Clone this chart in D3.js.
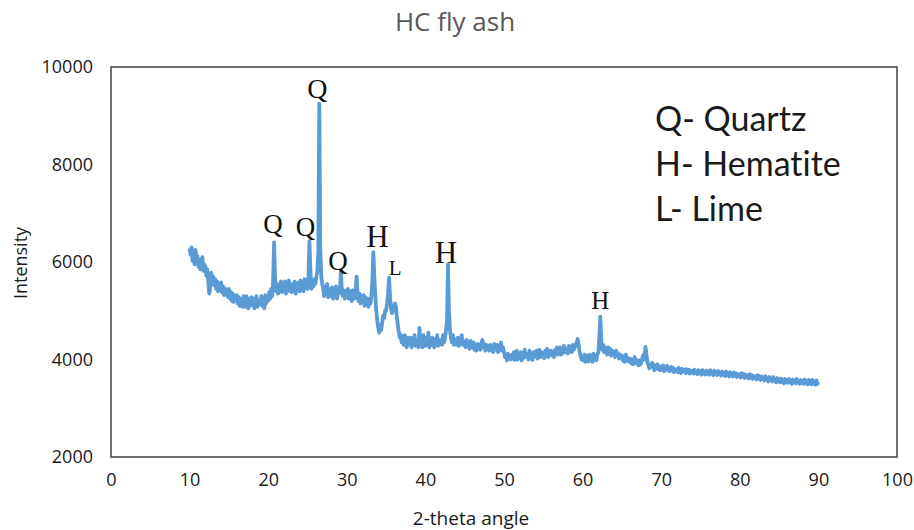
<!DOCTYPE html>
<html><head><meta charset="utf-8">
<script src="https://cdn.jsdelivr.net/npm/d3@7/dist/d3.min.js"></script>
<style>html,body{margin:0;padding:0;background:#fff;} text{font-variant-ligatures:none;font-feature-settings:"liga" 0;}</style>
</head><body>
<svg id="c" width="914" height="530"></svg>
<script>
// ---- data ----
const title = "HC fly ash";
const xLabel = "2-theta angle";
const yLabel = "Intensity";
const xTicks = [0,10,20,30,40,50,60,70,80,90,100];
const yTicks = [2000,4000,6000,8000,10000];
const angleStart = 10, angleStep = 0.125; // measurement grid 10..90
const intensity = [
 6280,6150,6300,6020,6180,5950,6250,6080, 6120,5900,6050,5850,5980,6100,5820,5950,
 5900,5720,5850,5600,5350,5480,5780,5650, 5700,5520,5650,5450,5600,5400,5550,5480,
 5580,5380,5500,5320,5460,5350,5420,5280, 5450,5250,5380,5200,5350,5180,5300,5250,
 5320,5150,5280,5100,5250,5180,5080,5300, 5200,5080,5300,5150,5050,5250,5120,5280,
 5100,5250,5050,5200,5300,5080,5220,5120, 5180,5300,5100,5250,5050,5320,5150,5280,
 5200,5380,5250,5450,5300,5600,6400,5650, 5400,5550,5350,5500,5420,5600,5380,5520,
 5450,5600,5350,5550,5400,5620,5450,5500, 5380,5550,5420,5600,5350,5520,5450,5580,
 5400,5620,5450,5550,5400,5650,5480,5580, 5450,5700,6430,5800,5450,5600,5500,5650,
 5550,5700,5800,6200,9250,6300,5700,5550, 5450,5300,5500,5350,5550,5280,5450,5350,
 5300,5480,5250,5420,5300,5500,5250,5400, 5350,5450,5800,5400,5300,5420,5250,5400,
 5300,5450,5250,5400,5350,5200,5420,5300, 5250,5400,5700,5350,5200,5350,5150,5300,
 5200,5320,5100,5280,5150,5250,5080,5200, 5150,5300,5600,6200,5700,5300,5000,4800,
 4650,4550,4700,4600,4750,4900,4850,5000, 5000,5150,5350,5680,5300,5050,4950,5100,
 5000,5150,5080,4850,4700,4550,4450,4500, 4350,4450,4300,4500,4350,4250,4450,4380,
 4300,4450,4250,4400,4320,4500,4280,4400, 4350,4250,4650,4300,4420,4250,4500,4350,
 4280,4450,4300,4550,4250,4400,4300,4450, 4350,4250,4420,4300,4500,4280,4380,4320,
 4400,4300,4500,4350,4450,4600,4800,5950, 5000,4600,4450,4350,4500,4300,4420,4380,
 4300,4450,4280,4400,4350,4500,4300,4380, 4320,4250,4400,4300,4350,4220,4380,4300,
 4250,4350,4200,4300,4180,4320,4250,4280, 4200,4350,4400,4250,4320,4180,4300,4220,
 4280,4180,4300,4200,4250,4150,4320,4220, 4200,4300,4150,4280,4220,4350,4180,4250,
 4150,4050,4100,3980,4120,4020,4080,4000, 4100,4020,4150,3990,4080,4180,4000,4120,
 4050,4150,3980,4100,4030,4200,4050,4120, 4100,4000,4180,4050,4120,3990,4150,4080,
 4060,4180,4020,4120,4200,4050,4150,4100, 4120,4030,4180,4080,4220,4050,4150,4100,
 4180,4080,4150,4050,4200,4120,4250,4100, 4150,4250,4100,4200,4130,4280,4150,4220,
 4200,4120,4280,4180,4250,4150,4300,4200, 4250,4300,4350,4420,4300,4150,4080,4000,
 4050,3980,4100,3950,4080,4020,3960,4100, 4000,4080,3950,4120,4020,4050,3980,4100,
 4150,4450,4880,4400,4200,4300,4150,4250, 4200,4100,4250,4150,4220,4080,4180,4120,
 4150,4050,4180,4080,4130,4020,4100,4050, 4080,3980,4050,3950,4100,3980,4030,3960,
 4020,3930,4000,3900,3980,4050,3920,3990, 3950,3880,3980,3900,3960,4050,4100,4000,
 4260,4100,3950,3880,3820,3900,3850,3930, 3850,3780,3880,3820,3900,3800,3860,3780,
 3850,3790,3880,3760,3830,3800,3870,3770, 3820,3760,3850,3780,3830,3740,3800,3770,
 3800,3740,3830,3760,3720,3810,3750,3790, 3780,3720,3800,3740,3790,3710,3770,3740,
 3770,3710,3790,3720,3760,3700,3780,3720, 3760,3690,3780,3710,3750,3690,3770,3710,
 3760,3690,3780,3710,3740,3680,3770,3720, 3740,3680,3760,3700,3730,3670,3750,3690,
 3720,3660,3750,3680,3730,3650,3740,3690, 3710,3650,3730,3670,3720,3640,3700,3660,
 3690,3630,3720,3650,3700,3620,3690,3640, 3670,3610,3700,3630,3680,3600,3660,3620,
 3650,3590,3680,3620,3660,3580,3650,3610, 3630,3570,3660,3590,3620,3550,3640,3580,
 3610,3550,3640,3570,3600,3530,3620,3560, 3590,3530,3610,3550,3580,3510,3600,3540,
 3580,3520,3600,3540,3570,3500,3590,3530, 3570,3510,3600,3530,3560,3500,3580,3520,
 3560,3500,3590,3520,3550,3490,3580,3510, 3560,3490,3580,3510,3550,3480,3570,3500,
 3540
];
const peakLabels = ["Q","Q","Q","Q","H","L","H","H"];
const peakAngles = [26.5,20.75,25.25,29.25,33.375,35.375,42.875,62.25];
const peakHeights = [9250,6400,6430,5800,6200,5680,5950,4880];
const legendLines = ["Q- Quartz","H- Hematite","L- Lime"];

// ---- chart ----
const svg = d3.select("#c");
const x = d3.scaleLinear().domain([0,100]).range([111,897]);
const y = d3.scaleLinear().domain([2000,10000]).range([457,67]);
const data = intensity.map((v,i)=>({a: angleStart + i*angleStep, v}));

svg.append("text").attr("x",455).attr("y",31).attr("text-anchor","middle")
  .attr("font-family","Open Sans").attr("font-size",26).attr("fill","#595959").text(title);

const ax = svg.append("g").attr("transform","translate(0,470)")
  .call(d3.axisBottom(x).tickValues(xTicks).tickSize(0).tickFormat(d3.format("d")));
ax.select(".domain").remove();
ax.selectAll("text").attr("font-family","Open Sans").attr("font-size",18).attr("fill","#1a1a1a");

const ay = svg.append("g").attr("transform","translate(93,0)")
  .call(d3.axisLeft(y).tickValues(yTicks).tickSize(0).tickPadding(0).tickFormat(d3.format("d")));
ay.select(".domain").remove();
ay.selectAll("text").attr("font-family","Open Sans").attr("font-size",18).attr("fill","#1a1a1a");

svg.append("rect").attr("x",x(0)).attr("y",y(10000))
  .attr("width",x(100)-x(0)).attr("height",y(2000)-y(10000))
  .attr("fill","none").attr("stroke","#404040").attr("stroke-width",1.5);

svg.append("text").attr("x",471).attr("y",525).attr("text-anchor","middle")
  .attr("font-family","Open Sans").attr("font-size",19).attr("fill","#1a1a1a").text(xLabel);
svg.append("text").attr("transform","translate(27,263) rotate(-90)").attr("text-anchor","middle")
  .attr("font-family","Open Sans").attr("font-size",18).attr("fill","#1a1a1a").text(yLabel);

svg.append("path").datum(data)
  .attr("d", d3.line().x(d=>x(d.a)).y(d=>y(d.v)))
  .attr("fill","none").attr("stroke","#5B9BD5").attr("stroke-width",3.8)
  .attr("stroke-linejoin","round");

const sizes = [28,27,27,27,31,21,31,25];
const offs = [6,10,5,2,5,3,1,8];
const dx = [-2,-1,-4,-3,4,6,-2,0];
svg.append("g").selectAll("text").data(peakLabels).join("text")
  .attr("x",(d,i)=>x(peakAngles[i]) + dx[i])
  .attr("y",(d,i)=>y(peakHeights[i]) - offs[i])
  .attr("text-anchor","middle").attr("font-family","Liberation Serif")
  .attr("font-size",(d,i)=>sizes[i]).attr("fill","#111").text(d=>d);

svg.append("g").selectAll("text").data(legendLines).join("text")
  .attr("x",655).attr("y",(d,i)=>131+i*45)
  .attr("font-family","Lato").attr("font-size",34).attr("fill","#1a1a1a").text(d=>d);
</script>
</body></html>
